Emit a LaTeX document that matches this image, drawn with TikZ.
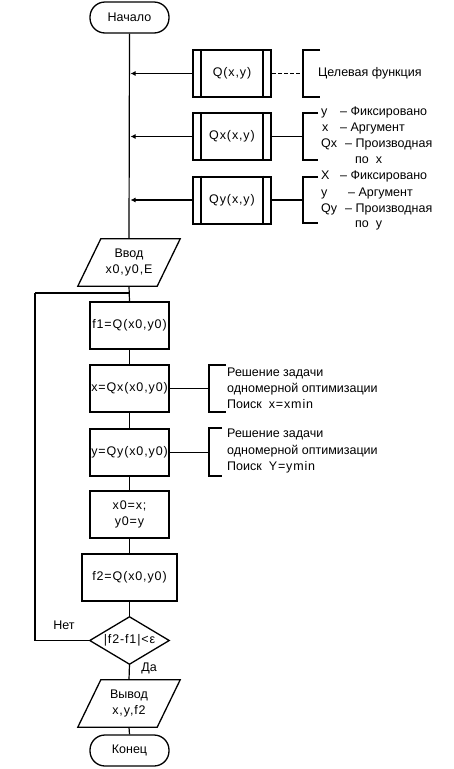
\documentclass[tikz,border=0pt]{standalone}
\usepackage{fontspec}
\setmainfont{Liberation Sans}
\newfontfamily\fsp[LetterSpace=7]{Liberation Sans}
\usetikzlibrary{arrows.meta}
\begin{document}
\begin{tikzpicture}[x=1pt,y=-1pt,
  every node/.style={font=\fontsize{12.5}{16}\selectfont},
  conn/.style={line width=1.2pt},
  box/.style={draw,line width=2pt,minimum width=79pt,minimum height=47pt,inner sep=0pt,align=center},
  pp/.style={draw,line width=2pt,minimum width=78pt,minimum height=47pt,inner sep=0pt},
  term/.style={draw,line width=1.3pt,rounded corners=15pt,minimum width=79pt,minimum height=31pt,inner sep=0pt},
  ghost/.style={minimum width=#1,minimum height=47pt,inner sep=0pt,align=center},
  brk/.style={line width=1.4pt},
  lbl/.style={anchor=west,inner sep=0pt},
  arr/.style={conn,-{Latex[length=5pt,width=5pt]}}
]
\useasboundingbox (0,0) rectangle (454,769);

% main chain
\node[term] (start) at (129.5,17.5) {Начало};
\node[ghost=102pt] (in) at (129,262.5) {Ввод\\\fsp x0,y0,E};
\node[box] (f1) at (129.5,325.5) {\fsp f1=Q(x0,y0)};
\node[box] (xq) at (129.5,388.5) {\fsp x=Qx(x0,y0)};
\node[box] (yq) at (129.5,452.5) {\fsp y=Qy(x0,y0)};
\node[box] (upd) at (129.5,514.5) {\fsp x0=x;\\\fsp y0=y};
\node[box,minimum width=95pt] (f2) at (129.5,577.5) {\fsp f2=Q(x0,y0)};
\node[ghost=79pt] (dec) at (129.5,640.5) {\fsp |f2-f1|<ε};
\node[ghost=102pt] (out) at (129,703.5) {Вывод\\\fsp x,y,f2};
\node[term] (end) at (129.5,750.5) {Конец};

% parallelograms and diamond outlines
\draw[line width=1.3pt] ([xshift=23pt]in.north west) -- (in.north east) -- ([xshift=-23pt]in.south east) -- (in.south west) -- cycle;
\draw[line width=1.3pt] ([xshift=23pt]out.north west) -- (out.north east) -- ([xshift=-23pt]out.south east) -- (out.south west) -- cycle;
\draw[line width=1.3pt] (dec.north) -- (dec.east) -- (dec.south) -- (dec.west) -- cycle;

% predefined process boxes
\node[pp] (q) at (232,73.5) {\fsp Q(x,y)};
\node[pp] (qx) at (232,136.5) {\fsp Qx(x,y)};
\node[pp] (qy) at (232,200) {\fsp Qy(x,y)};
\foreach \n in {q,qx,qy}{
  \draw[line width=2pt] ([xshift=9pt]\n.north west) -- ([xshift=9pt]\n.south west);
  \draw[line width=2pt] ([xshift=-9pt]\n.north east) -- ([xshift=-9pt]\n.south east);
}

% main vertical connectors
\draw[conn] (start.south) -- (in.north);
\draw[conn] (in.south) -- (f1.north);
\draw[conn] (f1.south) -- (xq.north);
\draw[conn] (xq.south) -- (yq.north);
\draw[conn] (yq.south) -- (upd.north);
\draw[conn] (upd.south) -- (f2.north);
\draw[conn] (f2.south) -- (dec.north);
\draw[conn] (dec.south) -- (out.north);
\draw[conn] (out.south) -- (end.north);

% arrows from function boxes
\draw[arr] (q.west) -- ([xshift=1pt]start.south |- q.west);
\draw[arr] (qx.west) -- ([xshift=1pt]start.south |- qx.west);
\draw[arr] (qy.west) -- ([xshift=1pt]start.south |- qy.west);

% loop
\coordinate (loopL) at (35,293);
\coordinate (loopJ) at (129.5,293);
\draw[conn] (dec.west) -- (dec.west -| loopL) -- (loopL);
\draw[line width=2pt] (loopL) -- (loopJ);
\node (net) at (64,625) {Нет};
\node (da) at (149,668) {Да};

% brackets for function boxes
\coordinate (bq) at (303,73.5);
\coordinate (bqx) at (303,136.5);
\coordinate (bqy) at (303,200);
\draw[conn,dashed,dash pattern=on 4pt off 2pt] (q.east) -- (bq);
\draw[conn] (qx.east) -- (bqx);
\draw[conn] (qy.east) -- (bqy);
\draw[brk] (320,50) -- (303,50) -- (303,97) -- (320,97);
\draw[brk] (318,113) -- (303,113) -- (303,160) -- (318,160);
\draw[brk] (318,177) -- (303,177) -- (303,223) -- (318,223);

\node[lbl] (tq) at (318,73) {Целевая функция};
\node[lbl] (tx1) at (321,112) {\makebox[19pt][l]{y}– Фиксировано};
\node[lbl] (tx2) at (322,128) {\makebox[18pt][l]{x}– Аргумент};
\node[lbl] (tx3) at (321,144) {\makebox[24pt][l]{Qx}– Производная};
\node[lbl] (tx4) at (355,160) {по\ \ x};
\node[lbl] (ty1) at (321,176) {\makebox[19pt][l]{X}– Фиксировано};
\node[lbl] (ty2) at (321,193) {\makebox[27pt][l]{y}– Аргумент};
\node[lbl] (ty3) at (321,209) {\makebox[24pt][l]{Qy}– Производная};
\node[lbl] (ty4) at (355,225) {по\ \ y};

% brackets for optimisation boxes
\coordinate (bxq) at (209,388.5);
\coordinate (byq) at (209,452.5);
\draw[conn] (xq.east) -- (bxq);
\draw[conn] (yq.east) -- (byq);
\draw[brk] (226,365) -- (209,365) -- (209,412) -- (226,412);
\draw[brk] (222,428) -- (209,428) -- (209,476) -- (222,476);

\node[lbl] (ox1) at (227,373) {Решение задачи};
\node[lbl] (ox2) at (227,389) {одномерной оптимизации};
\node[lbl] (ox3) at (227,404) {Поиск\ \ {\fsp x=xmin}};
\node[lbl] (oy1) at (227,434) {Решение задачи};
\node[lbl] (oy2) at (227,451) {одномерной оптимизации};
\node[lbl] (oy3) at (227,467) {Поиск\ \ {\fsp Y=ymin}};
\end{tikzpicture}
\end{document}
